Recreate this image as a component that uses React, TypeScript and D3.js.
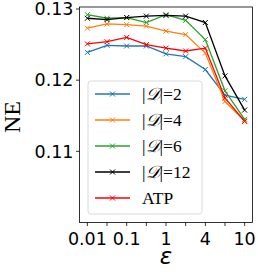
import React from "react";
import * as d3 from "d3";

// epsilon settings, evenly spaced on the axis (index positions)
const epsIdx = [0, 1, 2, 3, 4, 5, 6, 7, 8];
const xTickLabels = ["0.01", "", "0.1", "", "1", "", "4", "", "10"];
const yTicks = [0.11, 0.12, 0.13];

const d2 = [0.1239, 0.1249, 0.1248, 0.1248, 0.1237, 0.1233, 0.1215, 0.1179, 0.1173];
const d4 = [0.1273, 0.1279, 0.1278, 0.1276, 0.1269, 0.1264, 0.1238, 0.117, 0.1143];
const d6 = [0.1292, 0.1287, 0.1288, 0.1281, 0.1292, 0.1284, 0.1257, 0.1185, 0.1145];
const d12 = [0.1287, 0.1285, 0.1288, 0.129, 0.1291, 0.129, 0.1281, 0.1206, 0.1158];
const atp = [0.1251, 0.1254, 0.126, 0.125, 0.1245, 0.1241, 0.1245, 0.1175, 0.1142];

const seriesNames = ["2", "4", "6", "12", "ATP"];
const seriesData = [d2, d4, d6, d12, atp];
const seriesColors = ["#1f77b4", "#ff7f0e", "#2ca02c", "#000000", "#ff0000"];

const W = 258, H = 272;
const left = 79.5, right = 252.5, top = 7, bottom = 222.5;

export default function App() {
  const x = d3.scaleLinear().domain([-0.4, 8.4]).range([left, right]);
  const y = d3.scaleLinear().domain([0.1, 0.13028]).range([bottom, top]);
  const line = d3.line<number>().x((_, i) => x(epsIdx[i])).y((v) => y(v));

  const mark = (cx: number, cy: number, c: string, k: string) => (
    <path key={k} d={`M${cx - 2.5},${cy - 2.5}L${cx + 2.5},${cy + 2.5}M${cx - 2.5},${cy + 2.5}L${cx + 2.5},${cy - 2.5}`}
      stroke={c} strokeWidth={1} fill="none" />
  );

  return (
    <svg width={W} height={H} style={{ position: "absolute", left: 0, top: 0 }}>
      <rect width={W} height={H} fill="#fff" />
      {seriesData.map((s, si) => (
        <g key={si}>
          <path d={line(s) || ""} fill="none" stroke={seriesColors[si]} strokeWidth={1.3} />
          {s.map((v, i) => mark(x(epsIdx[i]), y(v), seriesColors[si], `m${i}`))}
        </g>
      ))}
      <rect x={left} y={top} width={right - left} height={bottom - top} fill="none" stroke="#000" strokeWidth={0.8} />
      {epsIdx.map((e, i) => (
        <g key={i}>
          <line x1={x(e)} x2={x(e)} y1={bottom} y2={bottom + 3.5} stroke="#000" strokeWidth={0.8} />
          <text x={x(e)} y={bottom + 22} textAnchor="middle" fontFamily="DejaVu Sans" fontSize={17.5}>{xTickLabels[i]}</text>
        </g>
      ))}
      {yTicks.map((t) => (
        <g key={t}>
          <line x1={left - 3.5} x2={left} y1={y(t)} y2={y(t)} stroke="#000" strokeWidth={0.8} />
          <text x={left - 6} y={y(t) + 6.3} textAnchor="end" fontFamily="DejaVu Sans" fontSize={17.5}>{t.toFixed(2)}</text>
        </g>
      ))}
      <text x={166} y={264} textAnchor="middle" fontFamily="DejaVu Sans" fontStyle="italic" fontSize={23}>ε</text>
      <text transform="translate(20,117) rotate(-90)" textAnchor="middle" fontFamily="Liberation Serif" fontSize={24}>NE</text>
      <rect x={88} y={81} width={114} height={133} rx={3} fill="#fff" fillOpacity={0.8} stroke="#d0d0d0" strokeWidth={0.8} />
      {seriesNames.map((n, i) => {
        const ly = 94 + i * 26;
        return (
          <g key={n}>
            <line x1={95} x2={130} y1={ly} y2={ly} stroke={seriesColors[i]} strokeWidth={1.3} />
            {mark(112.5, ly, seriesColors[i], "lm")}
            <text x={142} y={ly + 6} fontFamily="Liberation Serif" fontSize={17.5}>
              {n === "ATP" ? "ATP" : <>|<tspan fontStyle="italic">𝒟</tspan>|={n}</>}
            </text>
          </g>
        );
      })}
    </svg>
  );
}
